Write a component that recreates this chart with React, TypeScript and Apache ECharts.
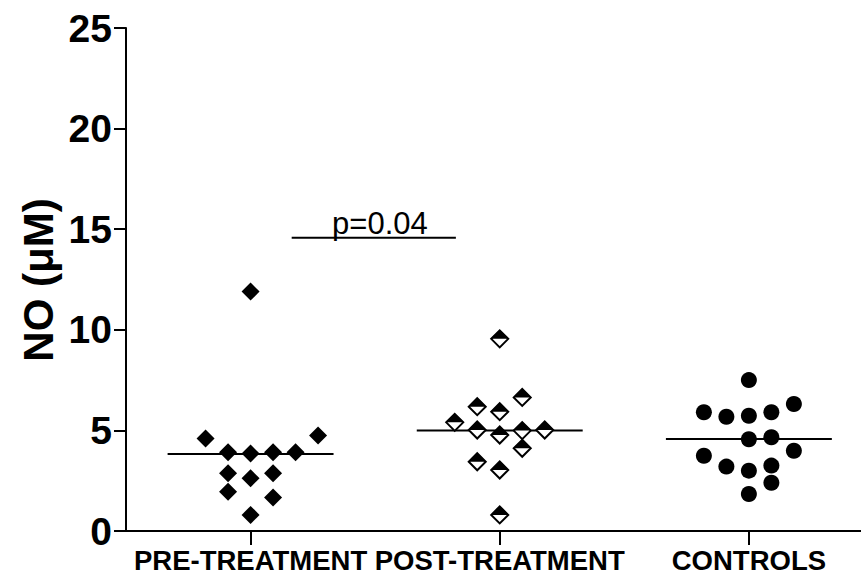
import React, { useEffect, useRef } from "react";
import * as echarts from "echarts";

const CATEGORIES = ["PRE-TREATMENT", "POST-TREATMENT", "CONTROLS"];

// values (µM) and their column offsets inside each group (dot-plot jitter columns)
const PRE_VALUES = [11.9, 4.6, 4.75, 3.92, 3.85, 3.92, 3.92, 2.87, 2.62, 2.87, 1.95, 1.67, 0.8];
const PRE_COLUMNS = [0, -2, 3, -1, 0, 1, 2, -1, 0, 1, -1, 1, 0];

const POST_VALUES = [9.55, 6.64, 6.18, 5.93, 5.4, 5.02, 4.77, 4.99, 5.02, 4.11, 3.44, 3.03, 0.8];
const POST_COLUMNS = [0, 1, -1, 0, -2, -1, 0, 1, 2, 1, -1, 0, 0];

const CONTROL_VALUES = [7.5, 5.9, 5.68, 5.73, 5.9, 6.31, 4.56, 4.66, 3.74, 3.99, 3.2, 3.0, 3.25, 2.4, 1.84];
const CONTROL_COLUMNS = [0, -2, -1, 0, 1, 2, 0, 1, -2, 2, -1, 0, 1, 1, 0];

const MEDIANS = [3.83, 4.99, 4.57];

const Y_MIN = 0;
const Y_MAX = 25;
const Y_INTERVAL = 5;

const P_TEXT = "p=0.04";
const P_BAR_X = [1.165, 1.824];
const P_BAR_Y = 14.58;
const P_TEXT_POS = [1.519, 15.26];

const Y_TITLE = "NO (\u03bcM)";

const COL_STEP = 0.0903;
const MEDIAN_HALF = 0.333;
const FONT = "'Liberation Sans', Arial, Helvetica, sans-serif";

function points(groupIndex: number, values: number[], cols: number[]) {
  return values.map((v, i) => [groupIndex + 1 + cols[i] * COL_STEP, v]);
}

export default function App() {
  const ref = useRef<HTMLDivElement>(null);
  useEffect(() => {
    if (!ref.current) return;
    const chart = echarts.init(ref.current, null, { renderer: "svg" });
    const pre = points(0, PRE_VALUES, PRE_COLUMNS);
    const post = points(1, POST_VALUES, POST_COLUMNS);
    const ctrl = points(2, CONTROL_VALUES, CONTROL_COLUMNS);
    const medianSeries = MEDIANS.map((m, i) => ({
      type: "line",
      data: [
        [i + 1 - MEDIAN_HALF, m],
        [i + 1 + MEDIAN_HALF, m],
      ],
      symbol: "none",
      lineStyle: { color: "#000", width: 2 },
      silent: true,
      z: 2,
    }));
    chart.setOption({
      animation: false,
      backgroundColor: "#fff",
      grid: { left: 126, right: 0, top: 28, bottom: 44, containLabel: false },
      xAxis: {
        type: "value",
        min: 0.5,
        max: 3.45,
        splitLine: { show: false },
        axisLine: { show: true, onZero: false, lineStyle: { color: "#000", width: 2 } },
        axisTick: { show: true, length: 14, customValues: [1, 2, 3], lineStyle: { color: "#000", width: 2 } },
        axisLabel: {
          show: true,
          customValues: [1, 2, 3],
          formatter: (v: number) => CATEGORIES[Math.round(v) - 1] || "",
          color: "#000",
          fontFamily: FONT,
          fontWeight: "bold",
          fontSize: 27.5,
          margin: 15,
        },
      },
      yAxis: {
        type: "value",
        min: Y_MIN,
        max: Y_MAX,
        interval: Y_INTERVAL,
        splitLine: { show: false },
        axisLine: { show: true, lineStyle: { color: "#000", width: 2 } },
        axisTick: { show: true, length: 12, lineStyle: { color: "#000", width: 2 } },
        axisLabel: {
          color: "#000",
          fontFamily: FONT,
          fontWeight: "bold",
          fontSize: 39,
          margin: 14,
        },
      },
      graphic: [
        {
          type: "text",
          x: 38,
          y: 280,
          rotation: Math.PI / 2,
          style: {
            text: Y_TITLE,
            fill: "#000",
            font: `bold 42px ${FONT}`,
            align: "center",
            verticalAlign: "middle",
          },
        },
      ],
      series: [
        ...medianSeries,
        {
          type: "line",
          data: [
            [P_BAR_X[0], P_BAR_Y],
            [P_BAR_X[1], P_BAR_Y],
          ],
          symbol: "none",
          lineStyle: { color: "#000", width: 2 },
          silent: true,
          z: 2,
        },
        {
          type: "scatter",
          data: [P_TEXT_POS],
          symbolSize: 0,
          silent: true,
          itemStyle: { opacity: 1, color: "#000" },
          label: {
            show: true,
            position: "inside",
            formatter: P_TEXT,
            color: "#000",
            textBorderWidth: 0,
            fontFamily: FONT,
            fontSize: 31,
            align: "center",
            verticalAlign: "middle",
          },
        },
        {
          type: "scatter",
          data: pre,
          symbol: "diamond",
          symbolSize: 18,
          itemStyle: { color: "#000", opacity: 1 },
          silent: true,
          z: 5,
        },
        {
          type: "scatter",
          data: post,
          symbol: "diamond",
          symbolSize: 17,
          itemStyle: { color: "#fff", borderColor: "#000", borderWidth: 2, opacity: 1 },
          silent: true,
          z: 5,
        },
        {
          type: "scatter",
          data: post,
          symbol: "triangle",
          symbolSize: [18, 9],
          symbolOffset: [0, -4.5],
          itemStyle: { color: "#000", opacity: 1 },
          silent: true,
          z: 6,
        },
        {
          type: "scatter",
          data: ctrl,
          symbol: "circle",
          symbolSize: 16,
          itemStyle: { color: "#000", opacity: 1 },
          silent: true,
          z: 5,
        },
      ],
    });
    return () => chart.dispose();
  }, []);
  return (
    <div
      ref={ref}
      style={{ position: "fixed", left: 0, top: 0, width: 861, height: 575, background: "#fff" }}
    />
  );
}
